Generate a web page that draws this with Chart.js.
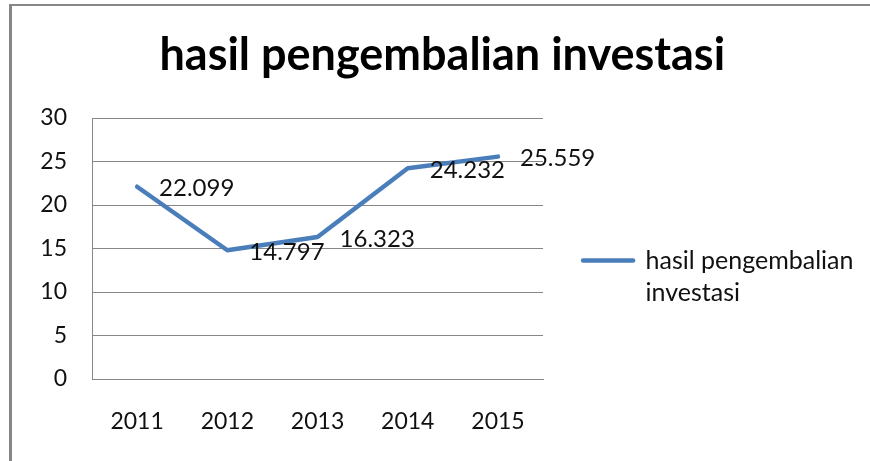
<!DOCTYPE html>
<html>
<head>
<meta charset="utf-8">
<script src="https://cdn.jsdelivr.net/npm/chart.js@4.4.1/dist/chart.umd.min.js"></script>
<style>
  html, body { margin: 0; padding: 0; background: #fff; }
  #wrap { position: relative; width: 870px; height: 461px; }
  #frame { position: absolute; left: 9px; top: 4px; width: 861px; height: 457px;
           border-top: 2px solid #878787; border-left: 3px solid #878787; box-sizing: border-box; pointer-events: none; }
</style>
</head>
<body>
<div id="wrap">
  <canvas id="c" width="870" height="461"></canvas>
  <div id="frame"></div>
</div>
<script>
const chartTitle = 'hasil pengembalian investasi';
const categories = ['2011', '2012', '2013', '2014', '2015'];
const seriesName = 'hasil pengembalian investasi';
const legendLines = ['hasil pengembalian', 'investasi'];
const values = [22.099, 14.797, 16.323, 24.232, 25.559];
const yTicks = [0, 5, 10, 15, 20, 25, 30];

const FONT = 'Lato';

const pointLabels = {
  id: 'pointLabels',
  afterDatasetsDraw(chart) {
    const ctx = chart.ctx;
    const meta = chart.getDatasetMeta(0);
    ctx.save();
    ctx.font = '24px ' + FONT;
    ctx.fillStyle = '#111';
    ctx.textAlign = 'left';
    ctx.textBaseline = 'middle';
    meta.data.forEach((pt, i) => {
      ctx.fillText(values[i].toFixed(3), pt.x + 22, pt.y + 2);
    });
    ctx.restore();
  }
};

new Chart(document.getElementById('c'), {
  type: 'line',
  data: {
    labels: categories,
    datasets: [{
      label: seriesName,
      data: values,
      borderColor: '#4A7EBB',
      backgroundColor: '#4A7EBB',
      borderWidth: 4.5,
      borderCapStyle: 'round',
      borderJoinStyle: 'round',
      pointRadius: 0,
      pointHoverRadius: 0,
      tension: 0,
      fill: false
    }]
  },
  options: {
    responsive: false,
    animation: false,
    devicePixelRatio: 1,
    layout: { padding: { left: 21, right: 6.5, top: 0, bottom: 20 } },
    plugins: {
      title: {
        display: true,
        text: chartTitle,
        color: '#000',
        font: { family: FONT, size: 45, weight: 'bold', lineHeight: 1.2 },
        padding: { top: 28, bottom: 36 }
      },
      legend: {
        position: 'right',
        align: 'center',
        maxWidth: 420,
        title: { display: true, text: '', font: { size: 12, lineHeight: 1.2 }, padding: { top: 104.6, bottom: 0 } },
        labels: {
          usePointStyle: true,
          pointStyle: 'line',
          pointStyleWidth: 50,
          padding: 40,
          color: '#111',
          font: { family: FONT, size: 25, lineHeight: 32 / 25 },
          generateLabels(chart) {
            const ds = chart.data.datasets[0];
            return [{
              text: legendLines,
              fillStyle: ds.borderColor,
              strokeStyle: ds.borderColor,
              lineWidth: 4.5,
              lineCap: 'round',
              pointStyle: 'line',
              datasetIndex: 0,
              hidden: false,
              fontColor: '#111'
            }];
          }
        }
      },
      tooltip: { enabled: false }
    },
    scales: {
      x: {
        offset: true,
        grid: { display: false, drawTicks: false },
        border: { display: true, color: '#878787', width: 1 },
        ticks: { color: '#111', font: { family: FONT, size: 23 }, padding: 29, maxRotation: 0 },
        afterFit(s) { s.height = 62; }
      },
      y: {
        min: 0,
        max: 30,
        afterBuildTicks(s) { s.ticks = yTicks.map(v => ({ value: v })); },
        grid: { color: '#878787', lineWidth: 1, drawTicks: false },
        border: { display: true, color: '#878787', width: 1 },
        ticks: { color: '#111', font: { family: FONT, size: 23 }, padding: 25 },
        afterFit(s) { s.width = 71; }
      }
    }
  },
  plugins: [pointLabels]
});
</script>
</body>
</html>
